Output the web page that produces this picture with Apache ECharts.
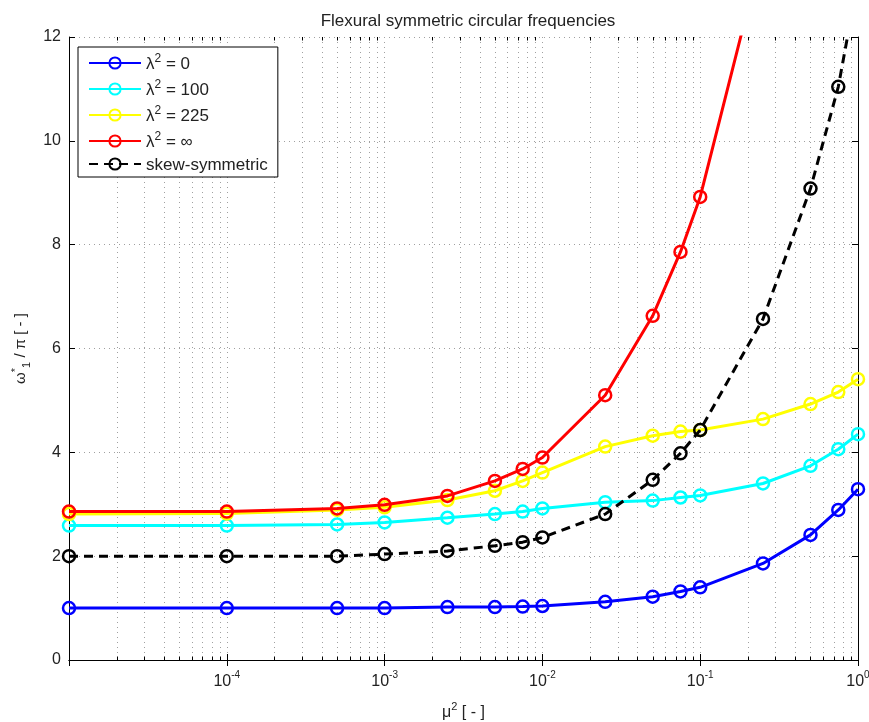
<!DOCTYPE html>
<html>
<head>
<meta charset="utf-8">
<script src="https://cdn.jsdelivr.net/npm/echarts@6/dist/echarts.min.js"></script>
<style>html,body{margin:0;padding:0;background:#fff}#c{width:869px;height:722px}</style>
</head>
<body>
<div id="c"></div>
<script>
// ---- data ----
var muSq = [1e-5, 1e-4, 5e-4, 1e-3, 2.5e-3, 5e-3, 7.5e-3, 1e-2, 2.5e-2, 5e-2, 7.5e-2, 1e-1, 2.5e-1, 5e-1, 7.5e-1, 1];
var lam0   = [1.00, 1.00, 1.00, 1.00, 1.02, 1.02, 1.03, 1.04, 1.12, 1.22, 1.32, 1.40, 1.86, 2.41, 2.89, 3.29];
var lam100 = [2.59, 2.59, 2.61, 2.65, 2.74, 2.81, 2.86, 2.92, 3.04, 3.07, 3.13, 3.17, 3.40, 3.74, 4.06, 4.35];
var lam225 = [2.81, 2.82, 2.89, 2.94, 3.08, 3.26, 3.45, 3.61, 4.11, 4.32, 4.40, 4.43, 4.64, 4.93, 5.16, 5.41];
var lamInf = [2.86, 2.86, 2.92, 2.99, 3.16, 3.45, 3.68, 3.90, 5.10, 6.63, 7.86, 8.92, 13.7];
var skew   = [2.00, 2.00, 2.00, 2.04, 2.10, 2.20, 2.27, 2.36, 2.81, 3.47, 3.98, 4.43, 6.57, 9.08, 11.04, 13.1];
var seriesNames = ['λ2 = 0', 'λ2 = 100', 'λ2 = 225', 'λ2 = ∞', 'skew-symmetric'];
var seriesColors = ['#0000ff', '#00ffff', '#ffff00', '#ff0000', '#000000'];
var yTicks = [0, 2, 4, 6, 8, 10, 12];
var minorMultipliers = [2, 3, 4, 5, 6, 7, 8, 9];
var minorDecades = [1e-5, 1e-4, 1e-3, 1e-2, 1e-1];

var FONT = 'Liberation Sans, Arial, sans-serif';
function pairs(vals) { return vals.map(function (v, i) { return [muSq[i], v]; }); }
var minorData = [];
minorDecades.forEach(function (d) { minorMultipliers.forEach(function (m) { minorData.push([m * d, 0]); }); });

function lineSeries(idx, vals, dashed) {
  var c = seriesColors[idx];
  return {
    name: seriesNames[idx], type: 'line', data: pairs(vals),
    symbol: 'circle', symbolSize: 12, showSymbol: true,
    lineStyle: { color: c, width: 3, type: dashed ? [9, 6] : 'solid' },
    itemStyle: { color: 'rgba(255,255,255,0)', borderColor: c, borderWidth: 2.5 },
    emphasis: { disabled: true }, animation: false, z: 3 + idx, clip: true
  };
}

var chart = echarts.init(document.getElementById('c'), null, { renderer: 'canvas' });
var gridLine = { show: true, lineStyle: { color: '#a0a0a0', type: [1, 4], width: 1 } };
var option = {
  backgroundColor: '#fff',
  animation: false,
  title: {
    text: 'Flexural symmetric circular frequencies', left: 463, top: 8, textAlign: 'center',
    textStyle: { fontFamily: FONT, fontSize: 17, fontWeight: 'normal', color: '#222' }
  },
  grid: { left: 69, right: 11, top: 37, bottom: 62, containLabel: false, outerBoundsMode: 'none' },
  legend: {
    data: seriesNames, orient: 'vertical', left: 78, top: 47,
    backgroundColor: '#fff', borderColor: '#000', borderWidth: 1,
    padding: [6, 10, 3, 10], itemGap: 6, itemWidth: 52, itemHeight: 14,
    selectedMode: false,
    formatter: function (name) {
      if (name.charAt(0) === 'λ') return '{b|λ}{s|2}{b|' + name.slice(2) + '}';
      return '{b|' + name + '}';
    },
    textStyle: {
      rich: {
        b: { fontFamily: FONT, fontSize: 17, lineHeight: 20, color: '#222', verticalAlign: 'bottom' },
        s: { fontFamily: FONT, fontSize: 12, lineHeight: 12, color: '#222', verticalAlign: 'top' }
      }
    }
  },
  xAxis: [{
    type: 'log', logBase: 10, min: 1e-5, max: 1, splitNumber: 5,
    name: '{m|μ}{s|2}{b| [ - ]}', nameLocation: 'middle', nameGap: 41,
    nameTextStyle: { rich: {
      m: { fontFamily: FONT, fontSize: 16, lineHeight: 20, color: '#222', verticalAlign: 'bottom' },
      s: { fontFamily: FONT, fontSize: 11, lineHeight: 11, color: '#222', verticalAlign: 'top' },
      b: { fontFamily: FONT, fontSize: 16, lineHeight: 20, color: '#222', verticalAlign: 'bottom' }
    } },
    axisLine: { lineStyle: { color: '#000', width: 1 } },
    axisTick: { inside: true, length: 6, lineStyle: { color: '#000' } },
    axisLabel: {
      margin: 10,
      formatter: function (v) {
        var e = Math.round(Math.log10(v));
        if (e === -5) return '';
        return '{b|10}{s|' + e + '}';
      },
      rich: {
        b: { fontFamily: FONT, fontSize: 16, lineHeight: 20, color: '#222', verticalAlign: 'bottom' },
        s: { fontFamily: FONT, fontSize: 10, lineHeight: 10, color: '#222', verticalAlign: 'top' }
      }
    },
    splitLine: gridLine
  }, {
    type: 'log', logBase: 10, min: 1e-5, max: 1, splitNumber: 5, position: 'top',
    axisLine: { lineStyle: { color: '#000', width: 1 } },
    axisTick: { inside: true, length: 6, lineStyle: { color: '#000' } },
    axisLabel: { show: false }, splitLine: { show: false }
  }],
  yAxis: [{
    type: 'value', min: 0, max: 12, interval: 2,
    name: '{b|ω}{s|*}{u|1}{b| / π [ - ]}', nameLocation: 'middle', nameGap: 37, nameRotate: 90,
    nameTextStyle: { rich: {
      b: { fontFamily: FONT, fontSize: 15, lineHeight: 22, color: '#222', verticalAlign: 'middle' },
      s: { fontFamily: FONT, fontSize: 11, lineHeight: 11, color: '#222', verticalAlign: 'top' },
      u: { fontFamily: FONT, fontSize: 11, lineHeight: 11, color: '#222', verticalAlign: 'bottom' }
    } },
    axisLine: { show: true, lineStyle: { color: '#000', width: 1 } },
    axisTick: { show: true, inside: true, length: 6, lineStyle: { color: '#000' } },
    axisLabel: { fontFamily: FONT, fontSize: 16, color: '#222', margin: 8,
      formatter: function (v) { return yTicks.indexOf(v) >= 0 ? String(v) : ''; } },
    splitLine: gridLine
  }, {
    type: 'value', min: 0, max: 12, interval: 2, position: 'right',
    axisLine: { show: true, lineStyle: { color: '#000', width: 1 } },
    axisTick: { show: true, inside: true, length: 6, lineStyle: { color: '#000' } },
    axisLabel: { show: false }, splitLine: { show: false }
  }],
  series: [
    {
      name: 'minor', type: 'custom', data: minorData, silent: true, z: 1, clip: false,
      renderItem: function (params, api) {
        var cs = params.coordSys;
        var p = api.coord([api.value(0), 0]);
        var x = Math.round(p[0]) + 0.5;
        return { type: 'group', children: [
          { type: 'line', shape: { x1: x, y1: cs.y, x2: x, y2: cs.y + cs.height },
            style: { stroke: '#a0a0a0', lineWidth: 1, lineDash: [1, 4] } },
          { type: 'line', shape: { x1: x, y1: cs.y + cs.height, x2: x, y2: cs.y + cs.height - 3.5 },
            style: { stroke: '#000', lineWidth: 1 } },
          { type: 'line', shape: { x1: x, y1: cs.y, x2: x, y2: cs.y + 3.5 },
            style: { stroke: '#000', lineWidth: 1 } }
        ] };
      }
    },
    lineSeries(0, lam0, false),
    lineSeries(1, lam100, false),
    lineSeries(2, lam225, false),
    lineSeries(3, lamInf, false),
    lineSeries(4, skew, true)
  ]
};
chart.setOption(option);
</script>
</body>
</html>
